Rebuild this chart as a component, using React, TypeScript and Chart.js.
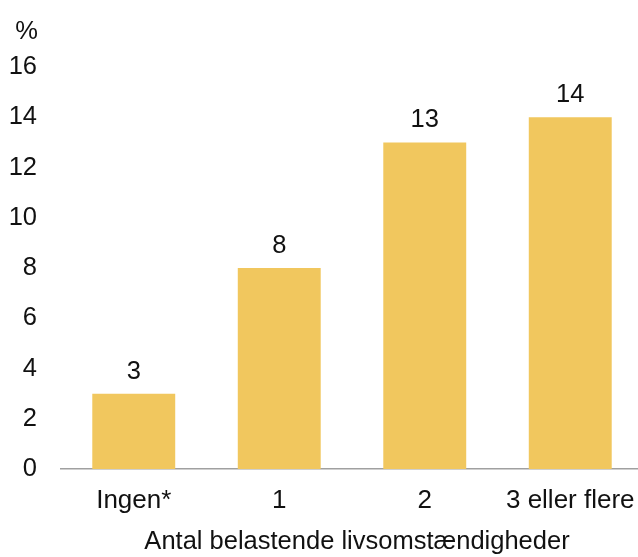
import React, { useEffect, useRef } from "react";
import { Chart, registerables } from "chart.js";

Chart.register(...registerables);

const categories: string[] = ["Ingen*", "1", "2", "3 eller flere"];
const values: number[] = [3, 8, 13, 14];
const yTicks: number[] = [0, 2, 4, 6, 8, 10, 12, 14, 16];
const yUnit = "%";
const xTitle = "Antal belastende livsomstændigheder";

const FONT = "'Liberation Sans', Arial, sans-serif";
const FONT_SIZE = 25.5;
const X_FONT_SIZE = 26;
const BAR_COLOR = "#F1C75E";
const TEXT_COLOR = "#111111";

const textPlugin = {
  id: "texts",
  afterDraw(chart: any) {
    const ctx = chart.ctx;
    ctx.save();
    ctx.font = `${FONT_SIZE}px ${FONT}`;
    ctx.fillStyle = TEXT_COLOR;
    // value labels
    const meta = chart.getDatasetMeta(0);
    ctx.textAlign = "center";
    ctx.textBaseline = "alphabetic";
    meta.data.forEach((bar: any, i: number) => {
      ctx.fillText(String(values[i]), bar.x, bar.y - 15);
    });
    // unit label
    ctx.textAlign = "right";
    ctx.fillText(yUnit, 38, 39);
    // x title
    ctx.textAlign = "center";
    ctx.fillText(xTitle, 357, 549);
    ctx.restore();
  },
};

export default function App() {
  const ref = useRef<HTMLCanvasElement | null>(null);
  useEffect(() => {
    if (!ref.current) return;
    const chart = new Chart(ref.current, {
      type: "bar",
      data: {
        labels: categories,
        datasets: [
          {
            data: values,
            backgroundColor: BAR_COLOR,
            borderWidth: 0,
            barPercentage: 0.57,
            categoryPercentage: 1,
          },
        ],
      },
      options: {
        responsive: false,
        animation: false,
        layout: { padding: { left: 0, top: 67, right: 0, bottom: 0 } },
        plugins: {
          legend: { display: false },
          tooltip: { enabled: false },
          title: { display: false },
        },
        scales: {
          x: {
            grid: { display: false, drawTicks: false },
            border: { display: true, color: "#A0A0A0", width: 1.5 },
            ticks: {
              color: TEXT_COLOR,
              font: { family: FONT, size: X_FONT_SIZE },
              padding: 16,
              maxRotation: 0,
              autoSkip: false,
            },
            afterFit(scale: any) {
              scale.height = 88;
              scale.paddingLeft = 0;
              scale.paddingRight = 0;
            },
          },
          y: {
            min: 0,
            max: 16,
            afterBuildTicks(scale: any) {
              scale.ticks = yTicks.map((v) => ({ value: v }));
            },
            grid: { display: false, drawTicks: false },
            border: { display: false },
            ticks: {
              color: TEXT_COLOR,
              font: { family: FONT, size: FONT_SIZE },
              padding: 24,
            },
            afterFit(scale: any) {
              scale.width = 61;
            },
          },
        },
      },
      plugins: [textPlugin],
    });
    return () => chart.destroy();
  }, []);
  return (
    <div
      style={{
        position: "absolute",
        left: 0,
        top: 0,
        width: 638,
        height: 557,
        overflow: "hidden",
        background: "#fff",
      }}
    >
      <div style={{ position: "relative", width: 643, height: 557 }}>
        <canvas
          ref={ref}
          width={643}
          height={557}
          style={{ display: "block", width: 643, height: 557 }}
        />
      </div>
    </div>
  );
}
